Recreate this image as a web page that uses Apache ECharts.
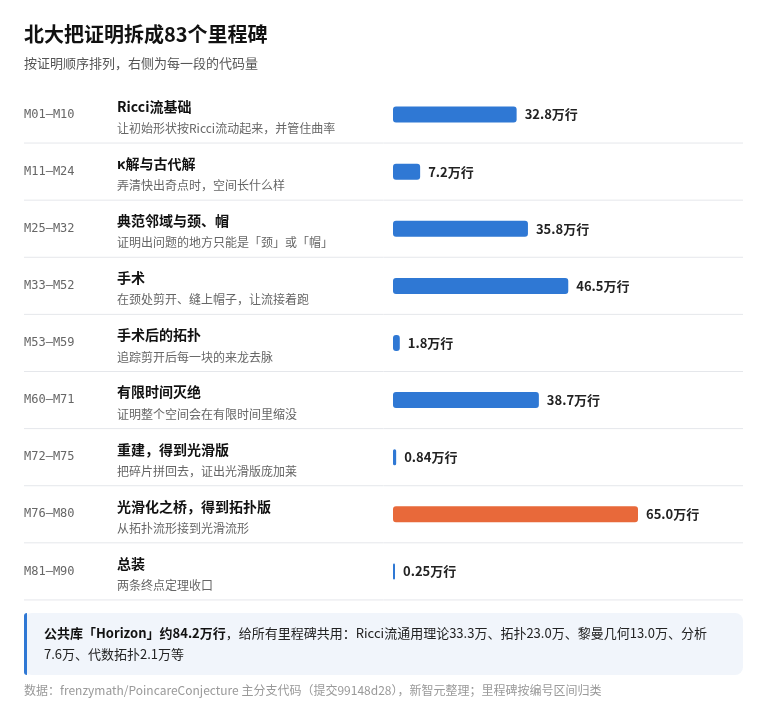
<!DOCTYPE html>
<html><head><meta charset="utf-8">
<script src="https://cdn.jsdelivr.net/npm/echarts@6/dist/echarts.min.js"></script>
<style>html,body{margin:0;padding:0;background:#fff}#c{width:768px;height:715px}</style>
</head><body><div id="c"></div>
<script>
const codes = ['M01—M10','M11—M24','M25—M32','M33—M52','M53—M59','M60—M71','M72—M75','M76—M80','M81—M90'];
const titles = ['Ricci流基础','κ解与古代解','典范邻域与颈、帽','手术','手术后的拓扑','有限时间灭绝','重建，得到光滑版','光滑化之桥，得到拓扑版','总装'];
const subs = ['让初始形状按Ricci流动起来，并管住曲率','弄清快出奇点时，空间长什么样','证明出问题的地方只能是「颈」或「帽」','在颈处剪开、缝上帽子，让流接着跑','追踪剪开后每一块的来龙去脉','证明整个空间会在有限时间里缩没','把碎片拼回去，证出光滑版庞加莱','从拓扑流形接到光滑流形','两条终点定理收口'];
const values = [32.8,7.2,35.8,46.5,1.8,38.7,0.84,65.0,0.25];
const labels = ['32.8万行','7.2万行','35.8万行','46.5万行','1.8万行','38.7万行','0.84万行','65.0万行','0.25万行'];
const highlight = 7;
const F = '"Noto Sans CJK SC","Noto Sans",sans-serif';
const chart = echarts.init(document.getElementById('c'));
const opt = {
  animation:false,
  grid:{left:393,width:245,top:86,height:514},
  xAxis:{type:'value',min:0,max:65,show:false},
  yAxis:{type:'category',inverse:true,data:codes,show:false},
  series:[{type:'bar',barWidth:16,barMinHeight:2,
    data:values.map((v,i)=>({value:v,itemStyle:{color:i===highlight?'#e8693a':'#2f78d4',borderRadius:3}})),
    label:{show:true,position:'right',distance:8,fontFamily:F,fontWeight:'bold',fontSize:13,color:'#222',
      formatter:p=>labels[p.dataIndex]}}]
};
chart.setOption(opt);
const g = [
  {type:'text',left:24,top:24,style:{text:'北大把证明拆成83个里程碑',font:'bold 20px '+F,fill:'#111'}},
  {type:'text',left:24,top:57,style:{text:'按证明顺序排列，右侧为每一段的代码量',font:'13px '+F,fill:'#555'}}
];
codes.forEach((c,i)=>{
  const y = chart.convertToPixel({yAxisIndex:0},i);
  g.push({type:'text',x:24,y:y,style:{text:c,font:'12px "DejaVu Sans Mono",monospace',fill:'#666',verticalAlign:'middle'}});
  g.push({type:'text',x:117,y:y-8,style:{text:titles[i],font:'bold 14px '+F,fill:'#111',verticalAlign:'middle'}});
  g.push({type:'text',x:117,y:y+14,style:{text:subs[i],font:'12px '+F,fill:'#666',verticalAlign:'middle'}});
  const yb = y+28.5;
  g.push({type:'line',shape:{x1:24,y1:yb,x2:743,y2:yb},style:{stroke:'#e5e7eb',lineWidth:1}});
});
g.push({type:'rect',shape:{x:24,y:613,width:719,height:62,r:8},style:{fill:'#f1f5fb'}});
g.push({type:'rect',shape:{x:24,y:613,width:3,height:62,r:[8,0,0,8]},style:{fill:'#2f78d4'}});
g.push({type:'text',x:44,y:633,style:{rich:{b:{font:'bold 13px '+F,fill:'#111'},n:{font:'13px '+F,fill:'#222'}},
  text:'{b|公共库「Horizon」约84.2万行}{n|，给所有里程碑共用：Ricci流通用理论33.3万、拓扑23.0万、黎曼几何13.0万、分析}',verticalAlign:'middle'}});
g.push({type:'text',x:44,y:654,style:{text:'7.6万、代数拓扑2.1万等',font:'13px '+F,fill:'#222',verticalAlign:'middle'}});
g.push({type:'text',x:24,y:690,style:{text:'数据：frenzymath/PoincareConjecture 主分支代码（提交99148d28），新智元整理；里程碑按编号区间归类',font:'12px '+F,fill:'#999',verticalAlign:'middle'}});
chart.setOption({graphic:g});
</script></body></html>
